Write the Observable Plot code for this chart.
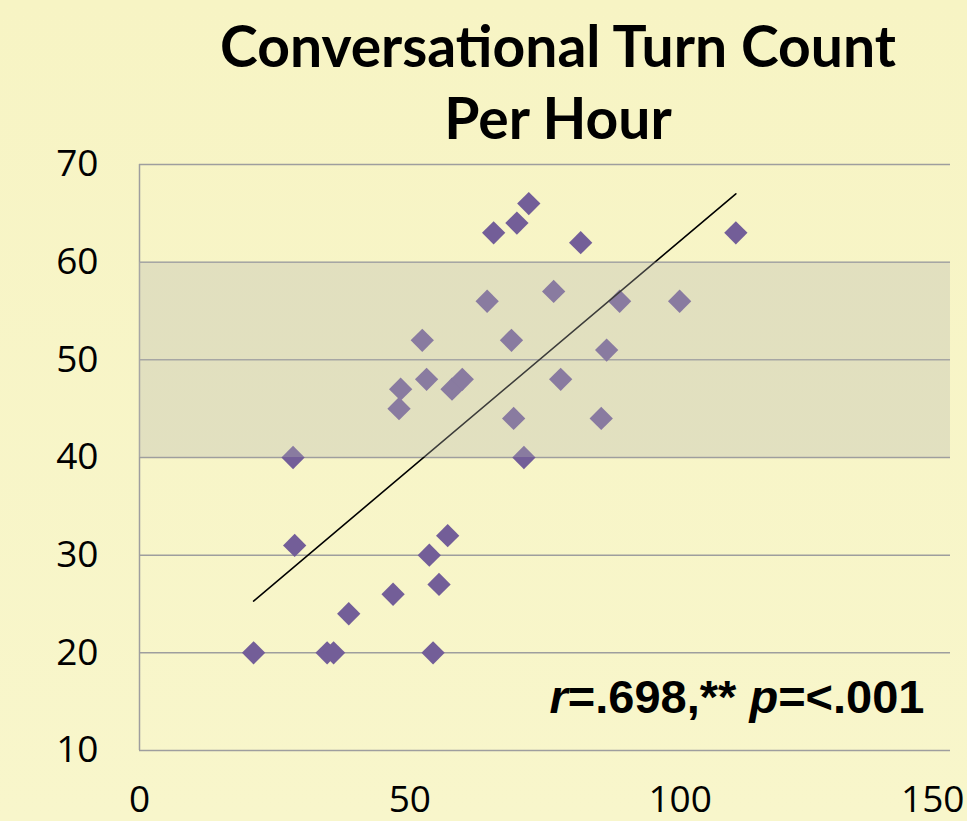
<!DOCTYPE html>
<html><head><meta charset="utf-8">
<script src="https://cdn.jsdelivr.net/npm/d3@7"></script>
<script src="https://cdn.jsdelivr.net/npm/@observablehq/plot@0.6"></script>
<style>
html,body{margin:0;padding:0;background:#f8f5c7;width:967px;height:821px;overflow:hidden;}
#wrap{position:relative;width:967px;height:821px;background:linear-gradient(#f7f4c4,#f8f6cb);}
.t{position:absolute;left:149px;right:0;text-align:center;font-family:Lato;font-weight:700;font-size:57px;line-height:57px;color:#000;white-space:nowrap;}
#chart{position:absolute;left:0;top:150px;}
</style></head><body>
<div id="wrap">
<div class="t" style="top:17px">Conversational Turn Count</div>
<div class="t" style="top:89px">Per Hour</div>
<div id="chart"></div>
</div>
<script>
// x = predictor value, y = conversational turn count per hour
const xValues = [21.1, 34.7, 35.9, 54.3, 38.7, 46.9, 55.4, 53.6, 28.7, 57.0, 28.4, 71.1, 69.2, 85.4, 48.0, 48.3,
                 57.8, 59.7, 53.1, 77.9, 86.4, 52.3, 68.8, 64.3, 88.8, 99.9, 76.6, 81.6, 65.5, 110.3, 69.8, 72.0];
const yValues = [20, 20, 20, 20, 24, 26, 27, 30, 31, 32, 40, 40, 44, 44, 45, 47,
                 47, 48, 48, 48, 51, 52, 52, 56, 56, 56, 57, 62, 63, 63, 64, 66];
// linear trendline endpoints
const trendX = [21.1, 110.3];
const trendY = [25.3, 67.0];
const xTicks = [0, 50, 100, 150];
const yTicks = [10, 20, 30, 40, 50, 60, 70];
const xDomain = [0, 150];
const yDomain = [10, 70];
const bandLow = [40];
const bandHigh = [60];
const statsParts = [["r", true], ["=.698,** ", false], ["p", true], ["=<.001", false]];
const statsText = statsParts.map(d => d[0]).join("");

const data = xValues.map((x, i) => ({x, y: yValues[i]}));
const trend = trendX.map((x, i) => ({x, y: trendY[i]}));
const band = bandLow.map((lo, i) => ({y1: lo, y2: bandHigh[i]}));

const plot = Plot.plot({
  width: 967, height: 671,
  marginLeft: 139, marginRight: 17, marginTop: 14, marginBottom: 71,
  style: {background: "transparent", fontFamily: "Open Sans", fontSize: "37px", color: "#000", overflow: "visible"},
  x: {domain: xDomain, label: null},
  y: {domain: yDomain, label: null},
  marks: [
    Plot.ruleY(yTicks, {stroke: "#9e9e9e", strokeWidth: 1.5}),
    Plot.ruleX([xDomain[0]], {stroke: "#9e9e9e", strokeWidth: 1.5}),
    Plot.dot(data, {x: "x", y: "y", symbol: "diamond2", r: 10.5, fill: "#735e98", stroke: "none"}),
    Plot.line(trend, {x: "x", y: "y", stroke: "#000", strokeWidth: 1.6}),
    Plot.rect(band, {y1: "y1", y2: "y2", fill: "#b6b7b0", fillOpacity: 0.33}),
    Plot.axisY({ticks: yTicks, tickSize: 0, tickPadding: 41, label: null}),
    Plot.axisX({ticks: xTicks, tickSize: 0, tickPadding: 35, label: null}),
    Plot.text([statsText], {frameAnchor: "bottom-right", textAnchor: "end", lineAnchor: "bottom",
      dx: -26, dy: -38, fontFamily: "Liberation Sans", fontWeight: "bold", fontSize: 47, fill: "#000"})
  ]
});
document.getElementById("chart").appendChild(plot);

d3.select(plot).selectAll("text").filter(function() { return this.textContent === statsText; })
  .each(function() {
    const t = d3.select(this);
    t.text(null);
    statsParts.forEach(([s, it]) => t.append("tspan").attr("font-style", it ? "italic" : "normal").text(s));
  });

// keep the last x tick label inside the page edge
const lastTick = String(xTicks[xTicks.length - 1]);
d3.select(plot).selectAll("g[aria-label='x-axis tick label'] text")
  .filter(function() { return this.textContent === lastTick; })
  .attr("text-anchor", "end").attr("dx", 14);
</script>
</body></html>
